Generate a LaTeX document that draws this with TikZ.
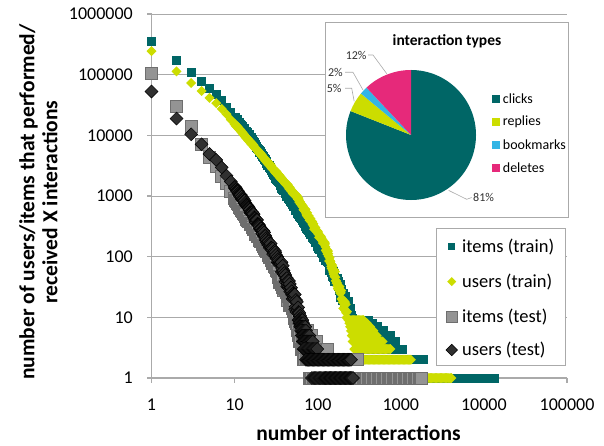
\documentclass[tikz,border=0pt]{standalone}
\usepackage{fontspec}
\setmainfont{Carlito}
\usepackage{tikz}

\definecolor{itemtrain}{RGB}{0,102,102}
\definecolor{usertrain}{RGB}{204,221,0}
\definecolor{itemtest}{RGB}{148,148,148}
\definecolor{itemtestedge}{RGB}{110,110,110}
\definecolor{usertest}{RGB}{48,48,48}
\definecolor{bookmark}{RGB}{51,181,229}
\definecolor{delete}{RGB}{230,41,122}
\definecolor{gridgray}{RGB}{170,170,170}
\definecolor{labelgray}{RGB}{50,50,50}

\newcommand{\sqmark}[3]{\path[#1] (#2) +(-#3,-#3) rectangle +(#3,#3);}
\newcommand{\dimark}[3]{\path[#1] (#2) +(0pt,#3) -- +(#3,0pt) -- +(0pt,-#3) -- +(-#3,0pt) -- cycle;}

\tikzset{
    gridline/.style={draw=gridgray, line width=0.9pt},
    axisline/.style={draw=gridgray, line width=1.3pt},
    boxline/.style={draw=gridgray, line width=0.9pt, fill=white},
    ticklabel/.style={font=\fontsize{18}{20}\selectfont, inner sep=0pt},
    axistitle/.style={font=\fontsize{21.5}{23}\selectfont\bfseries, inner sep=0pt},
    legendtext/.style={font=\fontsize{18.5}{20}\selectfont, inner sep=0pt, anchor=west},
    pietext/.style={font=\fontsize{14}{16}\selectfont, inner sep=0pt, anchor=west},
    pctlabel/.style={font=\fontsize{12}{14}\selectfont, inner sep=0pt, text=labelgray},
    leader/.style={draw=gridgray, line width=0.6pt},
    itemtrainmark/.style={fill=itemtrain},
    usertrainmark/.style={fill=usertrain},
    itemtestmark/.style={fill=itemtest, draw=itemtestedge, line width=0.8pt},
    usertestmark/.style={fill=usertest, draw=black, line width=0.5pt},
}

\begin{document}
\begin{tikzpicture}[x=1pt,y=1pt,
    declare function={
        fitemtrain(\x)=5.54-\x-0.25*max(0,\x-0.4)-0.45*max(0,\x-0.8)-0.5*max(0,\x-1.2)-0.9*max(0,\x-2.1);
        fusertrain(\x)=5.39-1.1*\x-0.5*max(0,\x-0.8)-0.8*max(0,\x-1.75)-2*max(0,\x-2.1);
        fitemtest(\x)=5.02-1.83*\x-0.4*max(0,\x-0.45)-max(0,\x-1.45);
        fusertest(\x)=4.72-1.45*\x-0.6*max(0,\x-0.8)-0.4*max(0,\x-1.2)-1.2*max(0,\x-1.55);
        jit(\x)=0.22*(rand+rand)*pow(10,-\x/2.7);
    }]
    \fill[white] (0,0) rectangle (604,445);
    \useasboundingbox (0,0) rectangle (604,445);
    \pgfmathsetseed{7}

    % log-log plot area, one unit = one decade
    \begin{scope}[shift={(151.5,67)}, x=83.1pt, y=60.65pt]
        \foreach \k in {1,...,6}
            \draw[gridline] (0,\k) -- (5,\k);
        \draw[axisline] (0,6) -- (0,0) -- (5,0);
        \foreach \k in {0,...,6}
            \draw[axisline] (0,\k) -- ++(-5pt,0pt);
        \foreach \k in {0,...,5}
            \draw[axisline] (\k,0) -- ++(0pt,-5pt);
        \foreach \k/\lab in {0/1,1/10,2/100,3/1000,4/10000,5/100000,6/1000000}
            \node[ticklabel, anchor=east] (ytick\k) at ([xshift=-18.5pt]0,\k) {\lab};
        \foreach \k/\lab in {0/1,1/10,2/100,3/1000,4/10000,5/100000}
            \node[ticklabel] (xtick\k) at ([yshift=-27pt]\k,0) {\lab};

        % items (train)
        \foreach \n in {1,...,10}{
            \pgfmathsetmacro\lx{log10(\n)}
            \pgfmathsetmacro\ly{fitemtrain(\lx)+jit(fitemtrain(\lx))}
            \sqmark{itemtrainmark}{\lx,\ly}{4.5pt}
        }
        \foreach \lx in {1.005,1.01,...,2.42}{
            \pgfmathsetmacro\ly{fitemtrain(\lx)+jit(fitemtrain(\lx))}
            \sqmark{itemtrainmark}{\lx,\ly}{4.5pt}
        }
        \foreach \k/\a/\b in {9/2.43/2.62, 8/2.44/2.67, 7/2.45/2.73, 6/2.46/2.8, 5/2.48/2.88,
                4/2.5/2.94, 3/2.52/3.02, 2/2.55/3.27, 1/2.6/4.14}{
            \pgfmathsetmacro\ly{log10(\k)}
            \pgfmathsetmacro\c{\a+0.015}
            \foreach \lx in {\a,\c,...,\b}{\sqmark{itemtrainmark}{\lx,\ly}{4.5pt}}
        }

        % users (train)
        \foreach \n in {1,...,10}{
            \pgfmathsetmacro\lx{log10(\n)}
            \pgfmathsetmacro\ly{fusertrain(\lx)+jit(fusertrain(\lx))}
            \dimark{usertrainmark}{\lx,\ly}{5pt}
        }
        \foreach \lx in {1.005,1.01,...,2.36}{
            \pgfmathsetmacro\ly{fusertrain(\lx)+jit(fusertrain(\lx))}
            \dimark{usertrainmark}{\lx,\ly}{5pt}
        }
        \foreach \k/\a/\b in {9/2.37/2.56, 8/2.38/2.6, 7/2.39/2.63, 6/2.4/2.67, 5/2.41/2.71,
                4/2.42/2.79, 3/2.44/2.88, 2/2.46/3.13, 1/2.5/3.62}{
            \pgfmathsetmacro\ly{log10(\k)}
            \pgfmathsetmacro\c{\a+0.015}
            \foreach \lx in {\a,\c,...,\b}{\dimark{usertrainmark}{\lx,\ly}{5pt}}
        }

        % items (test)
        \foreach \n in {1,...,10}{
            \pgfmathsetmacro\lx{log10(\n)}
            \pgfmathsetmacro\ly{fitemtest(\lx)+jit(fitemtest(\lx))}
            \sqmark{itemtestmark}{\lx,\ly}{6pt}
        }
        \foreach \lx in {1.005,1.01,...,1.75}{
            \pgfmathsetmacro\ly{fitemtest(\lx)+jit(fitemtest(\lx))}
            \sqmark{itemtestmark}{\lx,\ly}{6pt}
        }
        \foreach \k/\a/\b in {9/1.73/1.78, 8/1.74/1.8, 7/1.75/1.82, 6/1.76/1.88, 5/1.77/1.93,
                4/1.78/2.0, 3/1.8/2.12, 2/1.83/2.48, 1/1.9/3.26}{
            \pgfmathsetmacro\ly{log10(\k)}
            \pgfmathsetmacro\c{\a+0.015}
            \foreach \lx in {\a,\c,...,\b}{\sqmark{itemtestmark}{\lx,\ly}{6pt}}
        }

        % users (test)
        \foreach \n in {1,...,10}{
            \pgfmathsetmacro\lx{log10(\n)}
            \pgfmathsetmacro\ly{fusertest(\lx)+jit(fusertest(\lx))}
            \dimark{usertestmark}{\lx,\ly}{6.5pt}
        }
        \foreach \lx in {1.005,1.01,...,1.8}{
            \pgfmathsetmacro\ly{fusertest(\lx)+jit(fusertest(\lx))}
            \dimark{usertestmark}{\lx,\ly}{6.5pt}
        }
        \foreach \k/\a/\b in {9/1.77/1.82, 8/1.78/1.83, 7/1.79/1.85, 6/1.8/1.87, 5/1.81/1.9,
                4/1.82/1.95, 3/1.83/2.0, 2/1.86/2.4, 1/1.93/2.43}{
            \pgfmathsetmacro\ly{log10(\k)}
            \pgfmathsetmacro\c{\a+0.015}
            \foreach \lx in {\a,\c,...,\b}{\dimark{usertestmark}{\lx,\ly}{6.5pt}}
        }
    \end{scope}

    \node[axistitle, anchor=base] (xtitle) at (358.5,5) {number of interactions};
    \node[axistitle, rotate=90, align=center] (ytitle) at (38.5,243)
        {number of users/items that performed/\\received X interactions};

    % legend
    \draw[boxline] (436.7,79.3) rectangle (565.7,216.7);
    \sqmark{itemtrainmark}{451.7,198.3}{3.7pt}
    \dimark{usertrainmark}{451.7,163.3}{4.5pt}
    \sqmark{itemtestmark}{451.7,128.3}{5.5pt}
    \dimark{usertestmark}{451.7,95}{5.8pt}
    \node[legendtext] (legitemtrain) at (462,198.3) {items (train)};
    \node[legendtext] (legusertrain) at (462,163.3) {users (train)};
    \node[legendtext] (legitemtest) at (462,128.3) {items (test)};
    \node[legendtext] (legusertest) at (462,95) {users (test)};

    % inset pie
    \draw[boxline] (325,228) rectangle (568,422.3);
    \node[font=\fontsize{15.5}{17}\selectfont\bfseries, inner sep=0pt] (pietitle) at (447,403.5) {interaction types};
    \begin{scope}[shift={(411,310)}]
        \foreach \a/\b/\col in {90/-201.6/itemtrain, -201.6/-219.6/usertrain,
                -219.6/-226.8/bookmark, -226.8/-270/delete}
            \fill[\col] (0,0) -- (\a:65) arc[start angle=\a, end angle=\b, radius=65] -- cycle;
        \coordinate (tipdeletes) at (111.6:66);
        \coordinate (tipbookmarks) at (136.8:66);
        \coordinate (tipreplies) at (149.4:66);
        \coordinate (tipclicks) at (-55.8:67);
        \node[pctlabel, anchor=east] (pctdeletes) at (-44.3,80) {12\%};
        \node[pctlabel, anchor=east] (pctbookmarks) at (-68,62.7) {2\%};
        \node[pctlabel, anchor=east] (pctreplies) at (-69.3,46.7) {5\%};
        \node[pctlabel, anchor=west] (pctclicks) at (62,-62.5) {81\%};
        \draw[leader] ([xshift=1.3pt]pctdeletes.east) -- ++(5,0) -- (tipdeletes);
        \draw[leader] ([xshift=2pt]pctbookmarks.east) -- ++(8,0) -- (tipbookmarks);
        \draw[leader] ([xshift=3.3pt]pctreplies.east) -- ++(6.7,0) -- (tipreplies);
        \draw[leader] (tipclicks) -- (55.7,-64.3) -- ([xshift=-1.3pt]pctclicks.west);
        \foreach \y/\col/\lab in {36/itemtrain/clicks, 13/usertrain/replies,
                -10/bookmark/bookmarks, -33/delete/deletes}{
            \sqmark{fill=\col}{84.8,\y}{4.2pt}
            \node[pietext] (pie\lab) at (91.7,\y) {\lab};
        }
    \end{scope}
\end{tikzpicture}
\end{document}
